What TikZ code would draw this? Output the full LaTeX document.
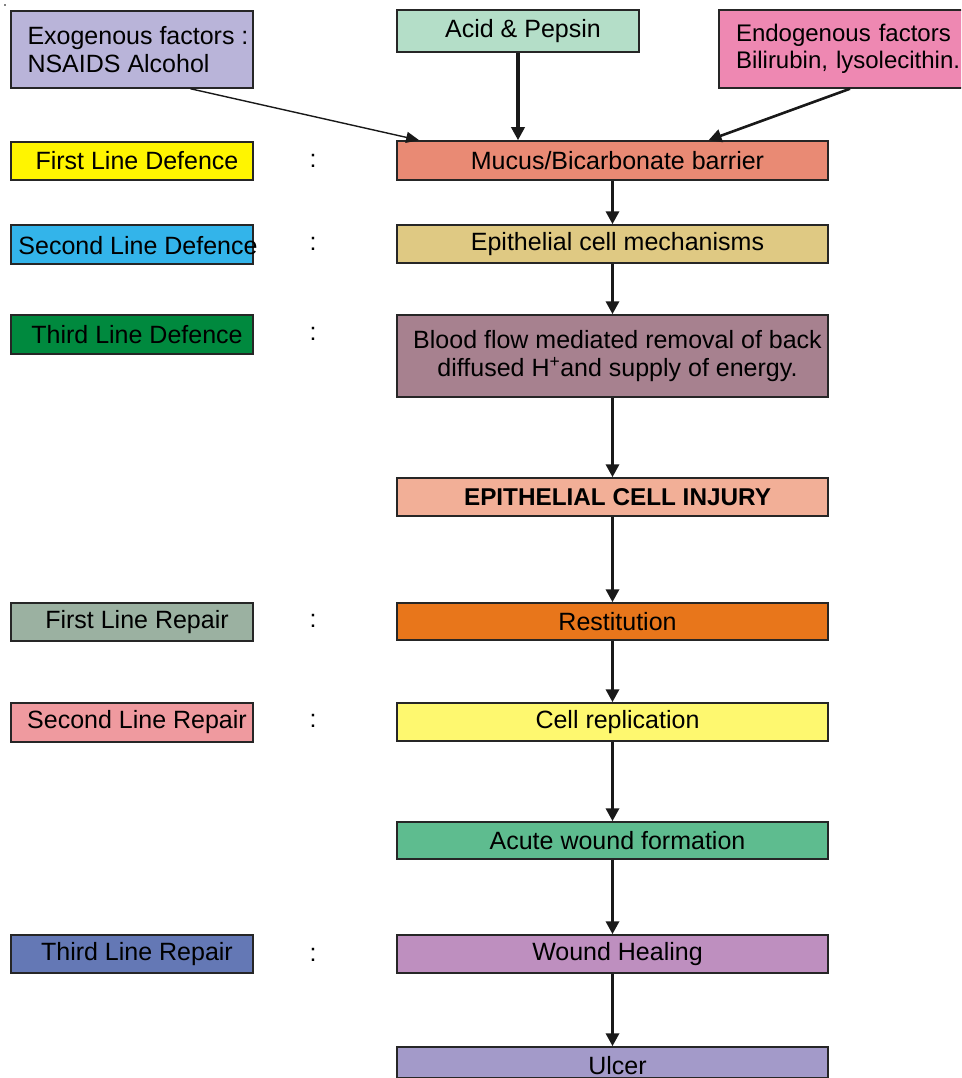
\documentclass[tikz,border=0pt]{standalone}
\usepackage{fontspec}
\setmainfont{Liberation Sans}
\usetikzlibrary{arrows.meta,calc}
\definecolor{cexo}{HTML}{B9B4D9}
\definecolor{cacid}{HTML}{B4DEC8}
\definecolor{cendo}{HTML}{EE88B2}
\definecolor{cmucus}{HTML}{E98A74}
\definecolor{cepi}{HTML}{DFC983}
\definecolor{cblood}{HTML}{A7818F}
\definecolor{cinj}{HTML}{F2AF97}
\definecolor{crest}{HTML}{E8761B}
\definecolor{crepl}{HTML}{FEF86F}
\definecolor{cacute}{HTML}{5EBC8F}
\definecolor{cheal}{HTML}{BE8FBF}
\definecolor{culcer}{HTML}{A39AC9}
\definecolor{cfld}{HTML}{FFF500}
\definecolor{csld}{HTML}{33B4EA}
\definecolor{ctld}{HTML}{00893E}
\definecolor{cflr}{HTML}{9BB1A1}
\definecolor{cslr}{HTML}{EF9A9F}
\definecolor{ctlr}{HTML}{6478B5}
\newcommand{\dfont}{\fontsize{25}{27.5}\selectfont}
\newcommand{\sh}{\hspace*{10pt}}
\tikzset{
  fbox/.style={draw=black!85, line width=1.5pt, inner sep=0pt, align=center,
    font=\dfont, text=black},
  mainbox/.style={fbox, minimum width=431pt},
  sidebox/.style={fbox, minimum width=242pt},
  colon/.style={inner sep=0pt, font=\dfont},
  flow/.style={line width=3.6pt, draw=black!90, -{Triangle[width=13pt,length=13pt]}},
  thinflow/.style={line width=1.4pt, draw=black!90, -{Triangle[width=11pt,length=13pt]}},
}
\begin{document}
\begin{tikzpicture}[x=1pt,y=-1pt]
\clip (0,0) rectangle (961,1078);
\fill[white] (0,0) rectangle (961,1078);
\fill[black] (5,5) circle (0.9pt);
% top row
\node[sidebox, fill=cexo, minimum height=77pt, align=left] (exo) at (132,49.5)
  {\hspace*{12pt}Exogenous factors :\\\hspace*{12pt}NSAIDS Alcohol};
\node[sidebox, fill=cacid, minimum height=42pt] (acid) at (518,31) {\sh Acid \& Pepsin};
\node[fbox, fill=cendo, minimum width=280pt, minimum height=78pt, text width=246pt, align=left,
  font=\fontsize{24}{27.5}\selectfont] (endo) at (859,49)
  {\makebox[221pt][s]{Endogenous factors}\\Bilirubin, lysolecithin.};
% main column
\node[mainbox, fill=cmucus, minimum height=39pt] (mucus) at (612.5,160.5) {\sh Mucus/Bicarbonate barrier};
\node[mainbox, fill=cepi, minimum height=38pt] (epi) at (612.5,244) {\sh Epithelial cell mechanisms};
\node[mainbox, fill=cblood, minimum height=82pt] (blood) at (612.5,356)
  {\sh Blood flow mediated removal of back\\\sh diffused H\textsuperscript{+}and supply of energy.};
\node[mainbox, fill=cinj, minimum height=38pt, font=\fontsize{24.3}{28}\selectfont\bfseries] (inj) at (612.5,497) {\sh EPITHELIAL CELL INJURY};
\node[mainbox, fill=crest, minimum height=37pt] (rest) at (612.5,621.5) {\sh Restitution};
\node[mainbox, fill=crepl, minimum height=38pt] (repl) at (612.5,722) {\sh Cell replication};
\node[mainbox, fill=cacute, minimum height=37pt] (acute) at (612.5,840.5) {\sh Acute wound formation};
\node[mainbox, fill=cheal, minimum height=38pt] (heal) at (612.5,954) {\sh Wound Healing};
\node[mainbox, fill=culcer, minimum height=31pt, text height=24pt, text depth=0pt] (ulcer) at (612.5,1062.5) {\sh Ulcer};
% left labels
\node[sidebox, fill=cfld, minimum height=38pt] (fld) at (132,161) {\sh First Line Defence};
\node[sidebox, fill=csld, minimum height=39pt] (sld) at (132,244.5) {};
\node[inner sep=0pt, font=\dfont] (sldt) at (138,246) {Second Line Defence};
\node[sidebox, fill=ctld, minimum height=39pt] (tld) at (132,334.5) {\sh Third Line Defence};
\node[sidebox, fill=cflr, minimum height=38pt] (flr) at (132,622) {\sh First Line Repair};
\node[sidebox, fill=cslr, minimum height=39pt] (slr) at (132,722.5) {\sh Second Line Repair};
\node[sidebox, fill=ctlr, minimum height=38pt] (tlr) at (132,954) {\sh Third Line Repair};
% colons
\node[colon] (c1) at (313,161) {:};
\node[colon] (c2) at (313,244) {:};
\node[colon] (c3) at (313,334) {:};
\node[colon] (c4) at (313,621) {:};
\node[colon] (c5) at (313,721) {:};
\node[colon] (c6) at (313,955) {:};
% connectors
\draw[flow] (acid.south) -- (acid.south |- mucus.north);
\draw[thinflow] ($(exo.south west)!0.74!(exo.south east)$) -- ($(mucus.north west)!0.053!(mucus.north east)$);
\draw[flow, line width=2.6pt] ($(endo.south west)!0.468!(endo.south east)$) -- ($(mucus.north west)!0.722!(mucus.north east)$);
\draw[flow] (mucus) -- (epi);
\draw[flow] (epi) -- (blood);
\draw[flow] (blood) -- (inj);
\draw[flow] (inj) -- (rest);
\draw[flow] (rest) -- (repl);
\draw[flow] (repl) -- (acute);
\draw[flow] (acute) -- (heal);
\draw[flow] (heal) -- (ulcer);
\end{tikzpicture}
\end{document}
